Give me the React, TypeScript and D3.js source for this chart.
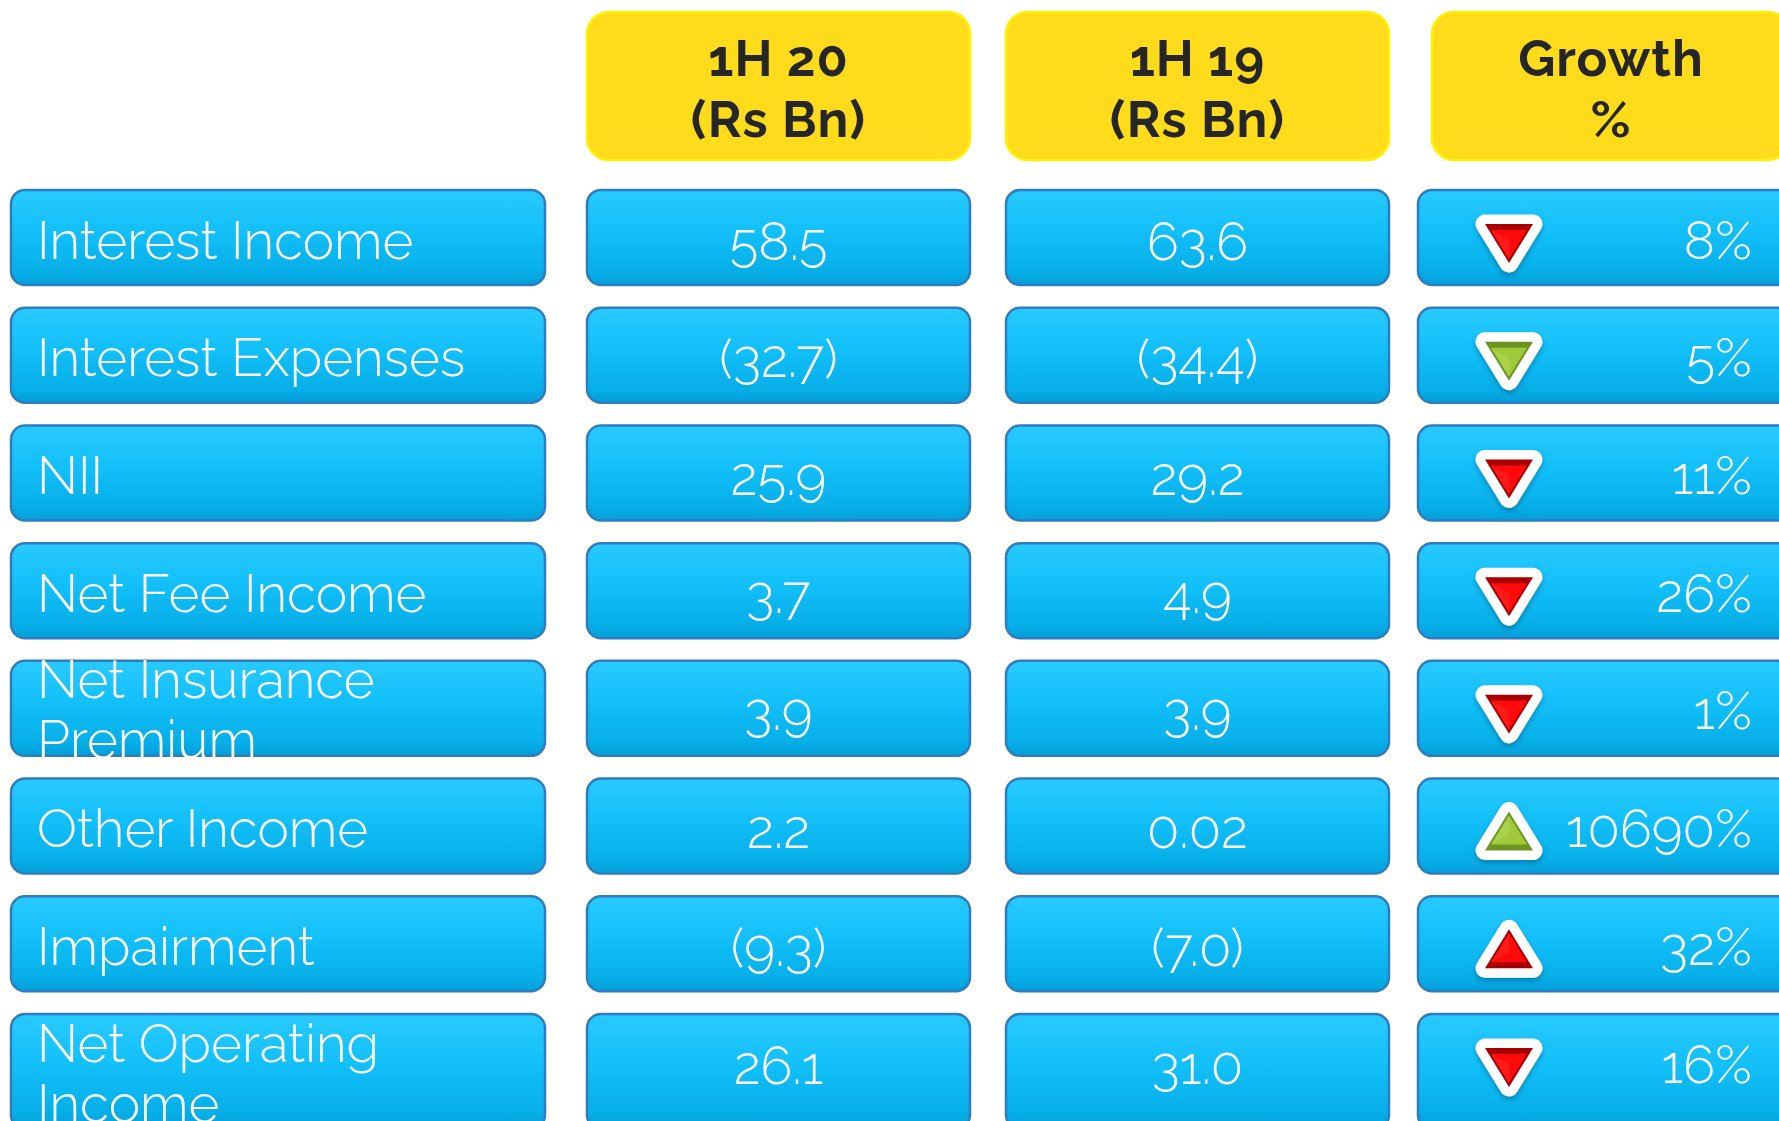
import React from "react";
import * as d3 from "d3";

// ---------- data ----------
const categories: string[][] = [
  ["Interest Income"],
  ["Interest Expenses"],
  ["NII"],
  ["Net Fee Income"],
  ["Net Insurance", "Premium"],
  ["Other Income"],
  ["Impairment"],
  ["Net Operating", "Income"],
];
const headerLabels: string[][] = [
  ["1H 20", "(Rs Bn)"],
  ["1H 19", "(Rs Bn)"],
  ["Growth", "%"],
];
const values1H20 = [58.5, -32.7, 25.9, 3.7, 3.9, 2.2, -9.3, 26.1];
const values1H19 = [63.6, -34.4, 29.2, 4.9, 3.9, 0.02, -7.0, 31.0];
const growthPct = [8, 5, 11, 26, 1, 10690, 32, 16];
const growthDirection = ["down", "down", "down", "down", "down", "up", "up", "down"];
const growthFavourable = [false, true, false, false, false, true, false, false];

// ---------- layout ----------
const W = 1779;
const H = 1121;
const ROW_H = 95;
const LAST_ROW_H = 115; // last row runs off the bottom of the slide
const labelCol = { x0: 11, x1: 545 };
const valueCols = [
  { x0: 587, x1: 970 },
  { x0: 1006, x1: 1389 },
];
const growthCol = { x0: 1418, x1: 1800 };
const headerCols = [
  { x0: 587, x1: 970 },
  { x0: 1006, x1: 1389 },
  { x0: 1432, x1: 1790 },
];
const HEADER_Y0 = 12;
const HEADER_Y1 = 160;
const BODY_SIZE = 53;

const FONT = "Raleway, Lato, 'Open Sans', sans-serif";

const fmtValue = (v: number) => {
  const a = Math.abs(v);
  const s = a < 0.1 ? d3.format(".2f")(a) : d3.format(".1f")(a);
  return v < 0 ? `(${s})` : s;
};

function Triangle({ cx, cy, dir, good }: { cx: number; cy: number; dir: string; good: boolean }) {
  const hw = 24;
  const dark = good ? "#6c9620" : "#a80000";
  const face = good ? "#9fcb3b" : "#ff0a0a";
  const sideL = good ? "#b3d95a" : "#ff2a2a";
  let outer: [number, number][];
  let inner: [number, number][];
  if (dir === "down") {
    const top = cy - 13.5;
    const tip = cy + 25.5;
    outer = [[cx - hw, top], [cx + hw, top], [cx, tip]];
    inner = [[cx - hw + 6, top + 6], [cx + hw - 6, top + 6], [cx, tip - 4]];
  } else {
    const apex = cy - 14.5;
    const base = cy + 24.5;
    outer = [[cx, apex], [cx + hw, base], [cx - hw, base]];
    inner = [[cx, apex + 4], [cx + hw - 6, base - 6], [cx - hw + 6, base - 6]];
  }
  const line = d3.line().curve(d3.curveLinearClosed);
  const centroid: [number, number] = [
    (inner[0][0] + inner[1][0] + inner[2][0]) / 3,
    (inner[0][1] + inner[1][1] + inner[2][1]) / 3,
  ];
  return (
    <g>
      <path d={line(outer) || ""} fill="#fff" stroke="#fff" strokeWidth={19} strokeLinejoin="round" filter="url(#triShadow)" />
      <path d={line(outer) || ""} fill={dark} />
      <path d={line(inner) || ""} fill={face} />
      <path d={line([inner[0], inner[2], centroid]) || ""} fill={sideL} opacity={0.5} />
    </g>
  );
}

export default function App() {
  const n = categories.length;
  const rowY = d3.scaleLinear().domain([0, n - 1]).range([190, 1014]);

  const cell = (key: string, x0: number, x1: number, y: number, h: number) => (
    <rect
      key={key}
      x={x0}
      y={y}
      width={x1 - x0}
      height={h}
      rx={14}
      ry={14}
      fill="url(#cellGrad)"
      stroke="#2f7dc0"
      strokeWidth={2.5}
    />
  );

  return (
    <svg
      width={W}
      height={H}
      viewBox={`0 0 ${W} ${H}`}
      style={{ position: "absolute", left: 0, top: 0, display: "block", background: "#fff" }}
    >
      <defs>
        <linearGradient id="cellGrad" x1="0" y1="0" x2="0" y2="1">
          <stop offset="0%" stopColor="#28cafe" />
          <stop offset="45%" stopColor="#12bff9" />
          <stop offset="85%" stopColor="#07afe8" />
          <stop offset="100%" stopColor="#039fd9" />
        </linearGradient>
        <filter id="triShadow" x="-30%" y="-30%" width="160%" height="170%">
          <feDropShadow dx="0" dy="3" stdDeviation="2.5" floodColor="#004a70" floodOpacity="0.45" />
        </filter>
        <clipPath id="pageClip">
          <rect x={0} y={0} width={W} height={H} />
        </clipPath>
      </defs>

      <g clipPath="url(#pageClip)">
        {/* headers */}
        {headerLabels.map((lines, i) => {
          const c = headerCols[i];
          const cx = (c.x0 + c.x1) / 2;
          return (
            <g key={`h${i}`}>
              <rect
                x={c.x0}
                y={HEADER_Y0}
                width={c.x1 - c.x0}
                height={HEADER_Y1 - HEADER_Y0}
                rx={22}
                ry={22}
                fill="#fedb1b"
                stroke="#fff200"
                strokeWidth={2.5}
              />
              {lines.map((t, j) => (
                <text
                  key={j}
                  x={cx}
                  y={76 + j * 61}
                  textAnchor="middle"
                  fontFamily={FONT}
                  fontWeight={700}
                  fontSize={51}
                  fill="#262626"
                  letterSpacing={1}
                  style={{ fontVariantNumeric: "oldstyle-nums" }}
                >
                  {t}
                </text>
              ))}
            </g>
          );
        })}

        {/* rows */}
        {categories.map((lines, i) => {
          const y = rowY(i);
          const h = i === n - 1 ? LAST_ROW_H : ROW_H;
          const cyStd = y + ROW_H / 2;
          const cyBox = y + h / 2;
          const firstBase = cyBox + 21 - 31 * (lines.length - 1);
          return (
            <g key={`r${i}`}>
              {cell(`l${i}`, labelCol.x0, labelCol.x1, y, h)}
              {lines.map((t, j) => (
                <text
                  key={j}
                  x={labelCol.x0 + 26}
                  y={firstBase + j * 60}
                  fontFamily={FONT}
                  fontWeight={300}
                  fontSize={BODY_SIZE}
                  fill="#fff"
                >
                  {t}
                </text>
              ))}
              {[values1H20, values1H19].map((vals, k) => {
                const c = valueCols[k];
                return (
                  <g key={`v${k}`}>
                    {cell(`c${k}`, c.x0, c.x1, y, h)}
                    <text
                      x={(c.x0 + c.x1) / 2}
                      y={cyStd + 22}
                      textAnchor="middle"
                      fontFamily={FONT}
                      fontWeight={300}
                      fontSize={BODY_SIZE}
                      fill="#fff"
                      style={{ fontVariantNumeric: "oldstyle-nums" }}
                    >
                      {fmtValue(vals[i])}
                    </text>
                  </g>
                );
              })}
              {cell(`g${i}`, growthCol.x0, growthCol.x1, y, h)}
              <Triangle cx={1509} cy={cyStd} dir={growthDirection[i]} good={growthFavourable[i]} />
              <text
                x={1752}
                y={cyStd + 21}
                textAnchor="end"
                fontFamily={FONT}
                fontWeight={300}
                fontSize={BODY_SIZE}
                fill="#fff"
                style={{ fontVariantNumeric: "oldstyle-nums" }}
              >
                {`${growthPct[i]}%`}
              </text>
            </g>
          );
        })}
      </g>
    </svg>
  );
}
